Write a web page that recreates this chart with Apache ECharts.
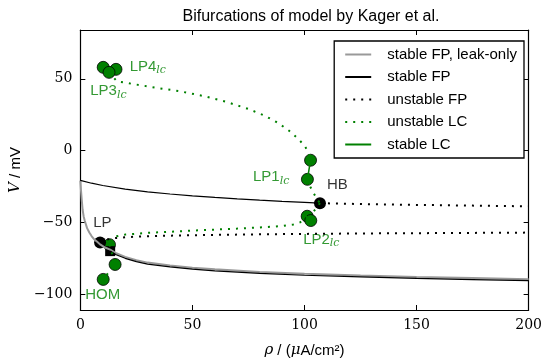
<!DOCTYPE html>
<html>
<head>
<meta charset="utf-8">
<script src="https://cdn.jsdelivr.net/npm/echarts@6/dist/echarts.min.js"></script>
<style>
html, body { margin: 0; padding: 0; background: #fff; }
#chart { width: 545px; height: 363px; }
</style>
</head>
<body>
<div id="chart"></div>
<script>
// tick values
var xTicks = [0, 50, 100, 150, 200];
var yTicks = [-100, -50, 0, 50];

// stable FP, leak-only (grey)
var leakRho = [0, 0.3, 0.6, 1, 1.5, 2, 3, 4, 5, 6, 7.5, 9, 11, 13.3, 16, 20, 25, 30, 40, 50, 60, 80, 100, 125, 150, 175, 200];
var leakV = [-21, -28, -34, -41, -46, -49, -54, -57, -59.5, -61.5, -63.5, -65.5, -67.5, -69, -71.5, -74, -76.3, -78, -80, -81.5, -82.7, -84.5, -85.8, -87, -88, -88.8, -89.5];

// stable FP, upper branch up to HB
var fpUpRho = [0, 5, 10, 20, 30, 40, 50, 60, 70, 80, 90, 100, 106.9];
var fpUpV = [-20.7, -22.7, -24.3, -26.8, -28.7, -30.2, -31.5, -32.6, -33.6, -34.5, -35.3, -36, -36.6];
// stable FP, lower branch
var fpLowRho = [13.3, 16, 20, 25, 30, 40, 50, 60, 80, 100, 125, 150, 175, 200];
var fpLowV = [-70, -72.5, -75, -77.3, -79, -81, -82.5, -83.7, -85.5, -86.8, -88, -89, -89.8, -90.5];

// unstable FP after HB
var ufpUpRho = [106.9, 125, 150, 175, 200];
var ufpUpV = [-36.6, -37.2, -37.8, -38.3, -38.8];
// unstable FP, middle branch from LP
var ufpMidRho = [8.8, 10, 15, 20, 30, 50, 75, 100, 125, 150, 175, 200];
var ufpMidV = [-64, -62.5, -61, -60.3, -59.6, -58.9, -58.4, -58, -57.7, -57.5, -57.3, -57.1];

// unstable LC branches
var ulcTopRho = [12.8, 16.3, 25, 35, 44.2, 55, 65, 75, 82, 88, 93, 97, 100, 102, 102.7];
var ulcTopV = [54.5, 48.3, 46, 43.5, 41.4, 38, 34, 29, 24.5, 19.5, 14, 8.5, 3.5, -2, -6.7];
var ulcHbUpRho = [101.3, 102.5, 104, 105.5, 106.9];
var ulcHbUpV = [-20, -25, -29.5, -33.5, -36.6];
var ulcHbDownRho = [106.9, 105.5, 104, 102.8];
var ulcHbDownV = [-36.6, -39.5, -42.5, -48.7];
var ulcLowRho = [101.2, 98, 95, 90, 80, 70, 60, 50, 40, 30, 20, 15, 13];
var ulcLowV = [-45.7, -50, -51.5, -52.5, -53.5, -54.3, -55, -55.7, -56.5, -57.3, -58.5, -60, -65.5];
var ulcHomRho = [13, 15.5, 12.5, 10.2];
var ulcHomV = [-65.5, -79.3, -85, -89.7];

// stable LC between the two LP1 points
var slcRho = [102.7, 101.3];
var slcV = [-6.7, -20];

// special points
var greenPtRho = [10.2, 15.9, 12.8, 102.7, 101.3, 101.2, 102.8, 13, 15.5, 10.2];
var greenPtV = [58, 56.6, 54.5, -6.7, -20, -45.7, -48.7, -65.5, -79.3, -89.7];
var blackPtRho = [8.8, 106.9];
var blackPtV = [-64, -36.6];
var squareRho = [13.3];
var squareV = [-70];

// annotations
var noteText = ['LP4', 'LP3', 'LP1', 'LP2', 'HB', 'LP', 'HOM'];
var noteSub = ['lc', 'lc', 'lc', 'lc', '', '', ''];
var noteRho = [22, 4.4, 77, 99.4, 110, 5.7, 2.2];
var noteV = [58.6, 41.4, -18.6, -61.9, -23.9, -50.3, -100.7];
var noteGreen = [true, true, true, true, false, false, true];

var GREEN = '#008000';
var SANS = '"Liberation Sans", Arial, sans-serif';
var SERIF = '"DejaVu Serif", "Liberation Serif", serif';

function pairs(xs, ys) {
  return xs.map(function (x, i) { return [x, ys[i]]; });
}

var dotted = [2, 6];

function lineSeries(name, xs, ys, color, width, type) {
  return {
    name: name,
    type: 'line',
    data: pairs(xs, ys),
    showSymbol: false,
    symbol: 'none',
    silent: true,
    lineStyle: { color: color, width: width, type: type || 'solid', cap: 'butt' },
    itemStyle: { color: color }
  };
}

var series = [
  lineSeries('stable FP, leak-only', leakRho, leakV, '#999999', 2),
  lineSeries('stable FP', fpUpRho, fpUpV, '#000', 1.2),
  lineSeries('stable FP', fpLowRho, fpLowV, '#000', 1.2),
  lineSeries('unstable FP', ufpUpRho, ufpUpV, '#000', 2, dotted),
  lineSeries('unstable FP', ufpMidRho, ufpMidV, '#000', 2, dotted),
  lineSeries('unstable LC', ulcTopRho, ulcTopV, GREEN, 2, dotted),
  lineSeries('unstable LC', ulcHbUpRho, ulcHbUpV, GREEN, 2, dotted),
  lineSeries('unstable LC', ulcHbDownRho, ulcHbDownV, GREEN, 2, dotted),
  lineSeries('unstable LC', ulcLowRho, ulcLowV, GREEN, 2, dotted),
  lineSeries('unstable LC', ulcHomRho, ulcHomV, GREEN, 2, dotted),
  lineSeries('stable LC', slcRho, slcV, GREEN, 1.5),
  {
    type: 'scatter', silent: true, symbol: 'circle', symbolSize: 12,
    data: pairs(greenPtRho, greenPtV),
    itemStyle: { color: GREEN, borderColor: '#000', borderWidth: 0.8, opacity: 1 }
  },
  {
    type: 'scatter', silent: true, symbol: 'circle', symbolSize: 12,
    data: pairs(blackPtRho, blackPtV),
    itemStyle: { color: '#000', opacity: 1 }
  },
  {
    type: 'scatter', silent: true, symbol: 'rect', symbolSize: 10,
    data: pairs(squareRho, squareV),
    itemStyle: { color: '#000', opacity: 1 }
  },
  {
    type: 'scatter', silent: true, symbolSize: 0,
    data: noteText.map(function (t, i) {
      var c = noteGreen[i] ? GREEN : '#000';
      return {
        value: [noteRho[i], noteV[i]],
        label: {
          show: true, position: 'right', distance: 0,
          formatter: noteSub[i] ? '{m|' + t + '}{s|' + noteSub[i] + '}' : '{m|' + t + '}',
          rich: {
            m: { fontSize: 15, fontFamily: SANS, color: c, lineHeight: 18 },
            s: { fontSize: 11, fontFamily: SERIF, fontStyle: 'italic', color: c, lineHeight: 18, padding: [8, 0, 0, 0] }
          }
        }
      };
    })
  }
];

var chart = echarts.init(document.getElementById('chart'), null, { renderer: 'canvas' });

var axisCommon = {
  axisLine: { show: true, onZero: false, lineStyle: { color: '#000', width: 1.2 } },
  axisTick: { show: true, inside: true, length: 5, lineStyle: { color: '#000' } },
  splitLine: { show: false }
};

function minusSign(v) {
  return String(v).replace('-', '\u2212');
}

chart.setOption({
  animation: false,
  backgroundColor: '#fff',
  title: {
    text: 'Bifurcations of model by Kager et al.',
    left: 306, top: 4, textAlign: 'center',
    textStyle: { fontFamily: SANS, fontSize: 16, fontWeight: 'normal', color: '#000' }
  },
  grid: { left: 80, right: 12, top: 30, bottom: 50, containLabel: false },
  legend: {
    data: ['stable FP, leak-only', 'stable FP', 'unstable FP', 'unstable LC', 'stable LC'],
    orient: 'vertical',
    right: 21, top: 41,
    itemWidth: 26, itemHeight: 14, itemGap: 7.5,
    padding: [6, 7, 6, 10],
    borderColor: '#000', borderWidth: 1.3, borderRadius: 0,
    backgroundColor: '#fff',
    selectedMode: false,
    itemStyle: { opacity: 0, color: 'transparent', borderColor: 'transparent', borderWidth: 0 },
    textStyle: { fontFamily: SANS, fontSize: 15, color: '#000', padding: [0, 0, 0, 11] }
  },
  xAxis: [
    Object.assign({}, axisCommon, {
      type: 'value', min: 0, max: 200, interval: 50, position: 'bottom',
      axisLabel: { fontFamily: SERIF, fontSize: 14, color: '#000', margin: 8 },
      name: '{i|ρ} / ({i|μ}A/cm²)',
      nameLocation: 'middle', nameGap: 33,
      nameTextStyle: {
        fontFamily: SANS, fontSize: 15, color: '#000',
        rich: { i: { fontFamily: SERIF, fontStyle: 'italic', fontSize: 15, color: '#000' } }
      }
    }),
    Object.assign({}, axisCommon, {
      type: 'value', min: 0, max: 200, interval: 50, position: 'top',
      axisLabel: { show: false }
    })
  ],
  yAxis: [
    Object.assign({}, axisCommon, {
      type: 'value', min: -111, max: 84, position: 'left',
      axisTick: { show: true, inside: true, length: 5, lineStyle: { color: '#000' }, customValues: yTicks },
      axisLabel: { fontFamily: SERIF, fontSize: 14, color: '#000', margin: 8, customValues: yTicks, formatter: minusSign },
      name: '{i|V} / mV',
      nameLocation: 'middle', nameGap: 52, nameRotate: 90,
      nameTextStyle: {
        fontFamily: SANS, fontSize: 15, color: '#000',
        rich: { i: { fontFamily: SERIF, fontStyle: 'italic', fontSize: 15, color: '#000' } }
      }
    }),
    Object.assign({}, axisCommon, {
      type: 'value', min: -111, max: 84, position: 'right',
      axisTick: { show: true, inside: true, length: 5, lineStyle: { color: '#000' }, customValues: yTicks },
      axisLabel: { show: false, customValues: yTicks }
    })
  ],
  series: series
});
</script>
</body>
</html>
